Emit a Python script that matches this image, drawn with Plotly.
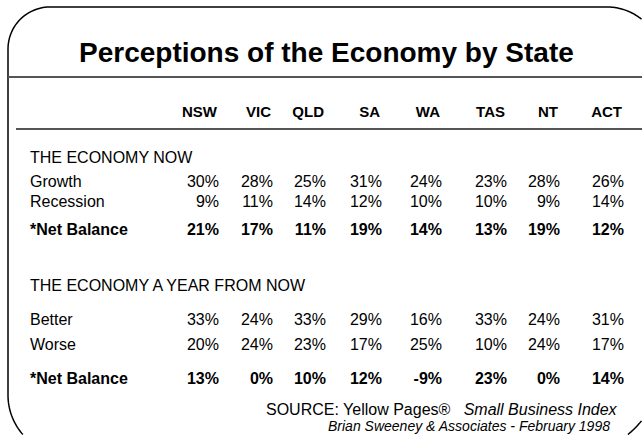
import math
import plotly.graph_objects as go

# ---- data ----
states = ["NSW", "VIC", "QLD", "SA", "WA", "TAS", "NT", "ACT"]
growth = [30, 28, 25, 31, 24, 23, 28, 26]
recession = [9, 11, 14, 12, 10, 10, 9, 14]
net_now = [21, 17, 11, 19, 14, 13, 19, 12]
better = [33, 24, 33, 29, 16, 33, 24, 31]
worse = [20, 24, 23, 17, 25, 10, 24, 17]
net_future = [13, 0, 10, 12, -9, 23, 0, 14]

title = "Perceptions of the Economy by State"
section_now = "THE ECONOMY NOW"
section_future = "THE ECONOMY A YEAR FROM NOW"
source_line = "SOURCE: Yellow Pages®\u00a0\u00a0 <i>Small Business Index</i>"
credit_line = "<i>Brian Sweeney & Associates - February 1998</i>"

# ---- layout constants (pixels) ----
W, H = 642, 435
col_x = [219, 273, 326, 382, 442, 507, 560, 624]
label_x = 30
FONT = "Arial, Liberation Sans, sans-serif"

fig = go.Figure()


def value_row(vals, y, bold=False, size=16):
    txt = [f"{v}%" for v in vals]
    fig.add_trace(go.Scatter(
        x=col_x, y=[y] * len(vals), mode="text", text=txt,
        textposition="middle left",
        textfont=dict(family=FONT, size=size, color="black",
                      weight="bold" if bold else "normal"),
        hoverinfo="skip", showlegend=False))


def label(text, y, bold=False, size=16):
    fig.add_trace(go.Scatter(
        x=[label_x], y=[y], mode="text", text=[text],
        textposition="middle right",
        textfont=dict(family=FONT, size=size, color="black",
                      weight="bold" if bold else "normal"),
        hoverinfo="skip", showlegend=False))


# header
fig.add_trace(go.Scatter(
    x=[c - 2 for c in col_x], y=[113] * len(states), mode="text", text=states,
    textposition="middle left",
    textfont=dict(family=FONT, size=15, color="black", weight="bold"),
    hoverinfo="skip", showlegend=False))

label(section_now, 159)
label("Growth", 183)
value_row(growth, 183)
label("Recession", 203)
value_row(recession, 203)
label("*Net Balance", 231, bold=True)
value_row(net_now, 231, bold=True)

label(section_future, 287)
label("Better", 321)
value_row(better, 321)
label("Worse", 346)
value_row(worse, 346)
label("*Net Balance", 380, bold=True)
value_row(net_future, 380, bold=True)

# title and source
fig.add_annotation(x=326, y=52, text=f"<b>{title}</b>", showarrow=False,
                   xanchor="center", yanchor="middle",
                   font=dict(family=FONT, size=28, color="black"))
fig.add_annotation(x=620, y=409, text=source_line, showarrow=False,
                   xanchor="right", yanchor="middle",
                   font=dict(family=FONT, size=16, color="black"))
fig.add_annotation(x=612, y=426, text=credit_line, showarrow=False,
                   xanchor="right", yanchor="middle",
                   font=dict(family=FONT, size=14, color="black"))


# ---- rounded frame: only the parts that are visible in the picture ----
def arc(cx, cy, r, a0, a1, n=24):
    pts = []
    for i in range(n + 1):
        a = math.radians(a0 + (a1 - a0) * i / n)
        pts.append((cx + r * math.cos(a), cy + r * math.sin(a)))
    return pts


def to_path(pts):
    return "M " + " L ".join(f"{px:.2f},{py:.2f}" for px, py in pts)


left_top = 8
top_y = 7
# top-right arc (centre 607,62 r55) from the right edge up to the top line
a_tr = -math.degrees(math.acos((W - 0.5 - 607) / 55))
main = arc(607, 62, 55, a_tr, -90)
main += arc(50, 49, 42, -90, -180)          # top-left corner
main += arc(68, 395, 60, 180, 180 - math.degrees(math.asin((H - 0.5 - 395) / 60)))
br0 = math.degrees(math.acos((W - 0.5 - 570) / 92))
br1 = math.degrees(math.asin((H - 0.5 - 363) / 92))
corner_br = arc(570, 363, 92, br0, br1, n=12)

fig.add_shape(type="path", path=to_path(main), xref="x", yref="y",
              line=dict(color="black", width=1.5))
fig.add_shape(type="path", path=to_path(corner_br), xref="x", yref="y",
              line=dict(color="black", width=1.5))
fig.add_shape(type="line", x0=8, x1=W, y0=77, y1=77, xref="x", yref="y",
              line=dict(color="#555555", width=2))
fig.add_shape(type="line", x0=16, x1=W, y0=129, y1=129, xref="x", yref="y",
              line=dict(color="#555555", width=2))

fig.update_xaxes(range=[0, W], visible=False, fixedrange=True)
fig.update_yaxes(range=[H, 0], visible=False, fixedrange=True)
fig.update_layout(width=W, height=H, margin=dict(l=0, r=0, t=0, b=0),
                  paper_bgcolor="white", plot_bgcolor="white",
                  showlegend=False)

fig.write_html(
    "out.html",
    config={"displayModeBar": False},
    post_script="document.documentElement.style.overflow='hidden';"
                "document.body.style.margin='0';"
                "document.body.style.overflow='hidden';",
)
